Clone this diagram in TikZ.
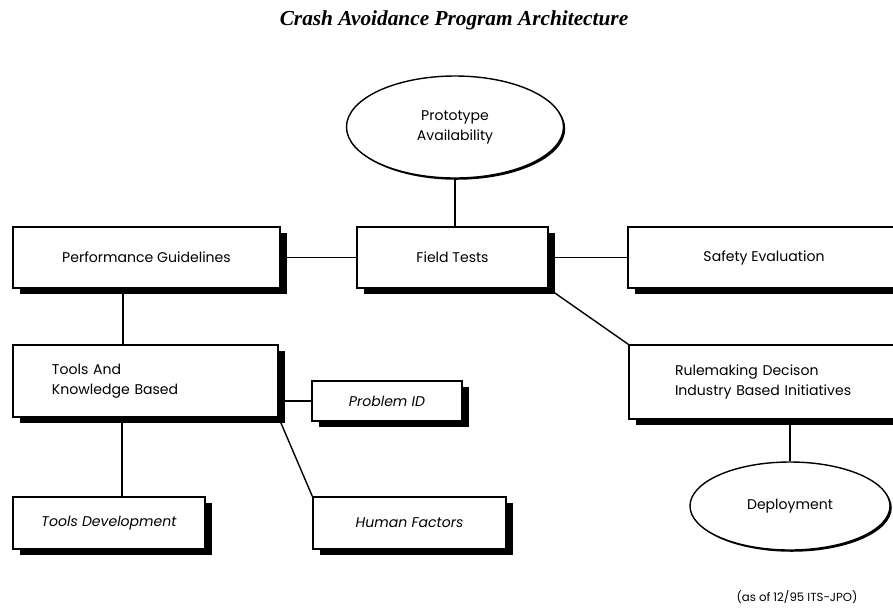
\documentclass[tikz,border=0pt]{standalone}
\usepackage{fontspec}
\setmainfont{Poppins}
\newfontfamily\titlefont{Liberation Serif}
\usetikzlibrary{shapes.geometric,shadows,backgrounds}
\tikzset{
  box/.style={draw,line width=1.2pt,fill=white,rectangle,inner sep=0pt,
    font=\fontsize{12}{17}\selectfont,
    drop shadow={shadow xshift=6pt,shadow yshift=-5pt,fill=black,opacity=1}},
  ibox/.style={box,font=\fontsize{12}{17}\selectfont\itshape},
  oval/.style={draw,line width=1.2pt,fill=white,ellipse,inner sep=0pt,align=center,
    font=\fontsize{12}{17}\selectfont,
    drop shadow={shadow xshift=1.5pt,shadow yshift=-1.5pt,fill=black,opacity=1}},
  link/.style={line width=1.2pt}
}
\begin{document}
\begin{tikzpicture}[x=0.03cm,y=-0.03cm]
  \useasboundingbox (0,0) rectangle (893,609);
  \node[font=\titlefont\bfseries\itshape\fontsize{18.2}{21}\selectfont] (title) at (454,20)
    {Crash Avoidance Program Architecture};
  \node[oval,minimum width=6.51cm,minimum height=3.06cm] (proto) at (455,127) {Prototype\\Availability};
  \node[box,minimum width=5.73cm,minimum height=1.83cm] (field) at (452.5,257.5) {Field Tests};
  \node[box,minimum width=8.01cm,minimum height=1.83cm] (perf) at (146.5,257.5) {Performance Guidelines};
  \node[box,minimum width=8.16cm,minimum height=1.83cm] (safety) at (764,257.5) {Safety Evaluation};
  \node[box,minimum height=2.16cm,inner xsep=1.17cm,text width=5.61cm,align=left] (tools) at (145.5,381)
    {Tools And\\Knowledge Based};
  \node[ibox,minimum width=4.5cm,minimum height=1.2cm] (probid) at (387,401) {Problem ID};
  \node[ibox,minimum width=5.76cm,minimum height=1.56cm] (tooldev) at (109,523) {Tools Development};
  \node[ibox,minimum width=5.79cm,minimum height=1.56cm] (human) at (409.5,523) {Human Factors};
  \node[box,minimum height=2.22cm,inner xsep=1.38cm,text width=5.37cm,align=left] (rule) at (764.5,382)
    {Rulemaking Decison\\Industry Based Initiatives};
  \node[oval,minimum width=6cm,minimum height=2.64cm] (deploy) at (790,506) {Deployment};
  \node[font=\fontsize{10}{12}\selectfont,inner sep=1pt] (note) at (797,597) {(as of 12/95 ITS-JPO)};
  \begin{scope}[on background layer]
    \draw[link] (proto.south) -- (proto.south |- field.north);
    \draw[link] (perf.east) -- (field.west);
    \draw[link] (field.east) -- (safety.west);
    \draw[link] (field.south east) -- (rule.north west);
    \draw[link] ([xshift=-0.7cm]perf.south) -- ([xshift=-0.7cm]perf.south |- tools.north);
    \draw[link] ([xshift=-0.7cm]tools.south) -- ([xshift=-0.7cm]tools.south |- tooldev.north);
    \draw[link] (probid.west) -- (probid.west -| tools.east);
    \draw[link] (tools.south east) -- (human.north west);
    \draw[link] (deploy.north) -- (deploy.north |- rule.south);
  \end{scope}
\end{tikzpicture}
\end{document}
